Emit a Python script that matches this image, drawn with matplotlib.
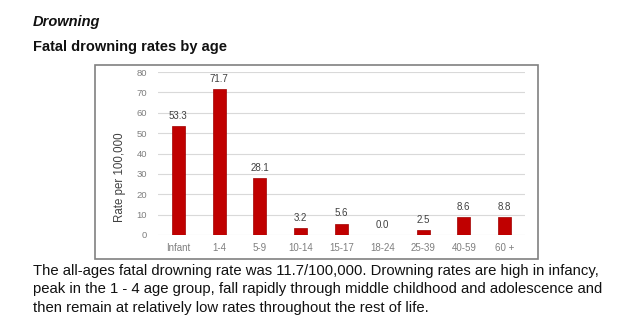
import matplotlib.pyplot as plt
from matplotlib.patches import Rectangle
import numpy as np

plt.rcParams['font.family'] = ['Liberation Sans', 'DejaVu Sans']

age_groups = ['Infant', '1-4', '5-9', '10-14', '15-17', '18-24', '25-39', '40-59', '60 +']
rates = [53.3, 71.7, 28.1, 3.2, 5.6, 0.0, 2.5, 8.6, 8.8]

fig = plt.figure(figsize=(6.3, 3.3), dpi=100)

# headings and paragraph
fig.text(33 / 630, 1 - 22 / 330, 'Drowning', fontsize=10.5, fontweight='bold',
         fontstyle='italic', va='center', ha='left', color='#111111')
fig.text(33 / 630, 1 - 47 / 330, 'Fatal drowning rates by age', fontsize=10.5,
         fontweight='bold', va='center', ha='left', color='#111111')
para = ['The all-ages fatal drowning rate was 11.7/100,000. Drowning rates are high in infancy,',
        'peak in the 1 - 4 age group, fall rapidly through middle childhood and adolescence and',
        'then remain at relatively low rates throughout the rest of life.']
for i, line in enumerate(para):
    fig.text(33 / 630, 1 - (271 + i * 18.5) / 330, line, fontsize=10.7,
             va='center', ha='left', color='#111111')

# chart frame
fig.patches.append(Rectangle((95 / 630, 1 - 259 / 330), 443 / 630, 194 / 330,
                             transform=fig.transFigure, fill=False,
                             edgecolor='#808080', linewidth=1.2))

ax = fig.add_axes([158 / 630, 1 - 235 / 330, 367 / 630, 163 / 330])
x = np.arange(len(age_groups))
ax.bar(x, rates, width=0.32, color='#C00000', edgecolor='#A00000', linewidth=0.5, zorder=3)
for xi, v in zip(x, rates):
    ax.text(xi, v + 2.5, f'{v:.1f}', ha='center', va='bottom', fontsize=7, color='#404040')

ax.set_xlim(-0.5, len(age_groups) - 0.5)
ax.set_ylim(0, 80)
ax.set_yticks(range(0, 81, 10))
ax.yaxis.grid(True, color='#D9D9D9', linewidth=0.8, zorder=0)
ax.set_xticks(x)
ax.set_xticklabels(age_groups)
ax.tick_params(axis='x', length=0, labelsize=7, colors='#7F7F7F', pad=6)
ax.tick_params(axis='y', length=0, labelsize=6.8, colors='#7F7F7F', pad=8)
for s in ax.spines.values():
    s.set_visible(False)
ax.set_ylabel('Rate per 100,000', fontsize=8.3, color='#404040')
ax.yaxis.set_label_coords(-32 / 367, 0.356)

fig.savefig('out.png', dpi=100)
